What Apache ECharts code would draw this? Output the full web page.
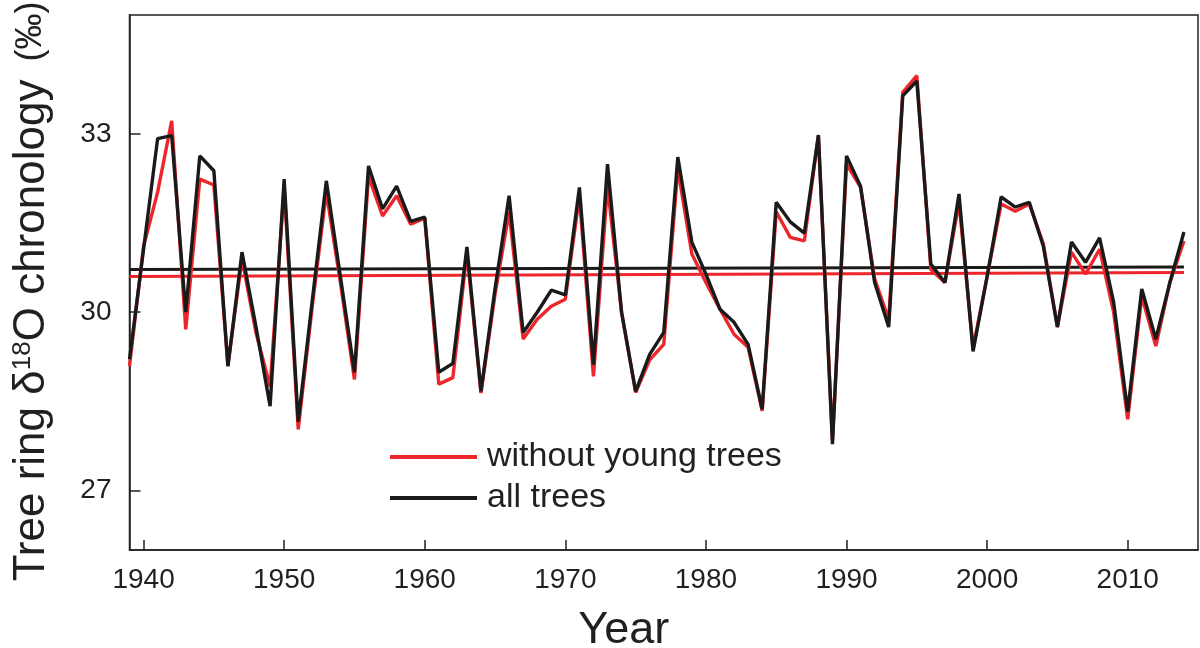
<!DOCTYPE html>
<html>
<head>
<meta charset="utf-8">
<script src="https://cdn.jsdelivr.net/npm/echarts@6/dist/echarts.min.js"></script>
<style>html,body{margin:0;padding:0;background:#fff;}#c{width:1200px;height:648px;}</style>
</head>
<body>
<div id="c"></div>
<script>
const years = [];
for (let y = 1939; y <= 2014; y++) years.push(y);
const allTrees = [29.21,31.06,32.92,32.97,30.0,32.63,32.38,29.09,31.01,29.75,28.42,32.24,28.16,30.2,32.21,30.6,28.99,32.46,31.74,32.12,31.53,31.6,28.99,29.14,31.1,28.67,30.4,31.96,29.66,30.0,30.37,30.29,32.1,29.12,32.49,30.0,28.67,29.29,29.66,32.61,31.18,30.64,30.05,29.83,29.46,28.37,31.85,31.52,31.33,32.98,27.78,32.63,32.12,30.5,29.75,33.64,33.89,30.81,30.5,31.99,29.34,30.6,31.94,31.77,31.85,31.11,29.75,31.18,30.84,31.25,30.17,28.33,30.39,29.55,30.5,31.35];
const withoutYoung = [29.09,31.11,32.02,33.22,29.71,32.24,32.14,29.1,30.9,29.65,28.75,32.1,28.03,30.1,32.02,30.5,28.87,32.29,31.62,31.96,31.48,31.58,28.79,28.9,31.0,28.64,30.3,31.69,29.55,29.88,30.1,30.22,31.95,28.92,32.12,30.0,28.65,29.2,29.46,32.41,30.98,30.5,30.05,29.63,29.41,28.34,31.69,31.26,31.2,32.97,27.85,32.49,32.1,30.56,29.88,33.7,33.98,30.72,30.5,31.85,29.4,30.6,31.82,31.7,31.82,31.15,29.75,31.01,30.64,31.06,30.0,28.2,30.27,29.43,30.5,31.2];
const trendAll = [[1939, 30.72], [2014, 30.76]];
const trendWithout = [[1939, 30.60], [2014, 30.67]];
const xTicks = [1940, 1950, 1960, 1970, 1980, 1990, 2000, 2010];
const yTicks = [27, 30, 33];

const RED = '#ec262b';
const BLACK = '#1a1a1a';
const TXT = '#231f20';
const FONT = 'Liberation Sans, Arial, sans-serif';

const chart = echarts.init(document.getElementById('c'), null, {renderer: 'canvas'});
chart.setOption({
  animation: false,
  backgroundColor: '#fff',
  grid: {left: 129.5, right: 2, top: 15, bottom: 98, containLabel: false, outerBoundsMode: 'none', show: true, borderColor: TXT, borderWidth: 1.5, backgroundColor: 'transparent'},
  legend: {
    data: ['without young trees', 'all trees'],
    orient: 'vertical', left: 390, top: 440, itemGap: 7, padding: 0,
    icon: 'rect', itemWidth: 87, itemHeight: 4,
    textStyle: {fontFamily: FONT, fontSize: 34, color: TXT, padding: [0, 0, 0, 5]}
  },
  xAxis: {
    type: 'value', min: 1939, max: 2015,
    name: 'Year', nameLocation: 'middle', nameGap: 58,
    nameTextStyle: {fontFamily: FONT, fontSize: 45, color: TXT, padding: [0, 80, 0, 0]},
    axisLine: {lineStyle: {color: TXT, width: 1.5}},
    axisTick: {inside: true, length: 10, lineStyle: {color: TXT, width: 1.5}, customValues: xTicks},
    axisLabel: {fontFamily: FONT, fontSize: 28, color: TXT, margin: 16, customValues: xTicks, formatter: v => String(v)},
    splitLine: {show: false}
  },
  yAxis: {
    type: 'value', min: 26, max: 35,
    name: '{a|Tree ring δ}{s|18}{a|O chronology}{g|}{p|(‰)}{sp|}',
    nameLocation: 'middle', nameGap: 76, nameRotate: 90,
    nameTextStyle: {
      fontFamily: FONT, color: TXT,
      rich: {
        a: {fontFamily: FONT, fontSize: 44, color: TXT},
        s: {fontFamily: FONT, fontSize: 26, color: TXT, verticalAlign: 'top', lineHeight: 28},
        p: {fontFamily: FONT, fontSize: 36, color: TXT},
        g: {width: 18},
        sp: {width: 18}
      }
    },
    axisLine: {lineStyle: {color: TXT, width: 1.5}},
    axisTick: {inside: true, length: 11, lineStyle: {color: TXT, width: 1.5}, customValues: yTicks},
    axisLabel: {fontFamily: FONT, fontSize: 28, color: TXT, margin: 18, customValues: yTicks},
    splitLine: {show: false}
  },
  series: [
    {name: 'trendWithout', type: 'line', data: trendWithout, symbol: 'none', lineStyle: {color: RED, width: 3}, itemStyle: {color: RED}, silent: true},
    {name: 'trendAll', type: 'line', data: trendAll, symbol: 'none', lineStyle: {color: BLACK, width: 3}, itemStyle: {color: BLACK}, silent: true},
    {name: 'without young trees', type: 'line', data: years.map((y, i) => [y, withoutYoung[i]]), symbol: 'none', lineStyle: {color: RED, width: 3.4}, itemStyle: {color: RED}},
    {name: 'all trees', type: 'line', data: years.map((y, i) => [y, allTrees[i]]), symbol: 'none', lineStyle: {color: BLACK, width: 3.4}, itemStyle: {color: BLACK}}
  ]
});
</script>
</body>
</html>
